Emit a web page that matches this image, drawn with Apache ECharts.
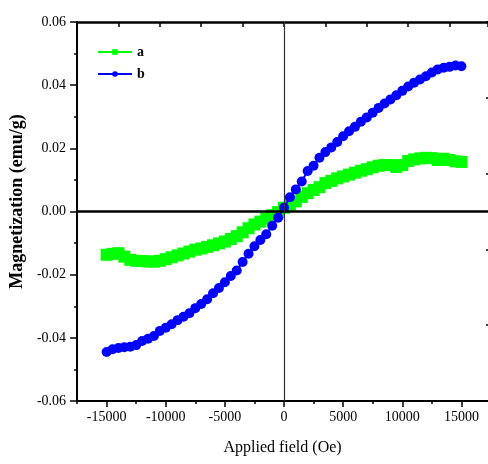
<!DOCTYPE html>
<html>
<head>
<meta charset="utf-8">
<script src="https://cdn.jsdelivr.net/npm/echarts@6/dist/echarts.min.js"></script>
<style>
  html, body { margin: 0; padding: 0; background: #fff; }
  #chart { width: 488px; height: 464px; }
</style>
</head>
<body>
<div id="chart"></div>
<script>
// Applied field (Oe), sampled every 500 Oe
const fields = [
  -15000, -14500, -14000, -13500, -13000, -12500, -12000, -11500, -11000, -10500,
  -10000, -9500, -9000, -8500, -8000, -7500, -7000, -6500, -6000, -5500,
  -5000, -4500, -4000, -3500, -3000, -2500, -2000, -1500, -1000, -500,
  0, 500, 1000, 1500, 2000, 2500, 3000, 3500, 4000, 4500,
  5000, 5500, 6000, 6500, 7000, 7500, 8000, 8500, 9000, 9500,
  10000, 10500, 11000, 11500, 12000, 12500, 13000, 13500, 14000, 14500, 15000
];

// Magnetization (emu/g), sample a
const magA = [
  -0.0137, -0.0134, -0.0132, -0.0143, -0.0153, -0.0156, -0.0157, -0.0158, -0.0159, -0.0156,
  -0.0151, -0.0145, -0.0139, -0.0133, -0.0127, -0.0121, -0.0117, -0.0112, -0.0107, -0.0101,
  -0.0095, -0.0087, -0.0078, -0.0066, -0.0053, -0.0041, -0.0032, -0.0022, -0.0012, -0.0002,
  0.0012, 0.0021, 0.0032, 0.0046, 0.0058, 0.0068, 0.0077, 0.0090, 0.0097, 0.0105,
  0.0111, 0.0117, 0.0123, 0.0129, 0.0134, 0.0140, 0.0145, 0.0147, 0.0147, 0.0141,
  0.0147, 0.0160, 0.0165, 0.0168, 0.0170, 0.0169, 0.0163, 0.0167, 0.0163, 0.0159, 0.0157
];

// Magnetization (emu/g), sample b
const magB = [
  -0.0445, -0.0436, -0.0432, -0.0430, -0.0428, -0.0423, -0.0410, -0.0403, -0.0394, -0.0378,
  -0.0368, -0.0357, -0.0344, -0.0333, -0.0322, -0.0306, -0.0293, -0.0278, -0.0259, -0.0242,
  -0.0224, -0.0204, -0.0187, -0.0160, -0.0134, -0.0110, -0.0090, -0.0072, -0.0045, -0.0020,
  0.0012, 0.0045, 0.0070, 0.0095, 0.0128, 0.0145, 0.0170, 0.0188, 0.0203, 0.0220,
  0.0238, 0.0254, 0.0268, 0.0284, 0.0298, 0.0313, 0.0328, 0.0342, 0.0355, 0.0368,
  0.0382, 0.0396, 0.0408, 0.0418, 0.0428, 0.0440, 0.0450, 0.0455, 0.0458, 0.0462, 0.0460
];

// Bottom axis: labelled ticks and the minor ticks between them
const fieldTicks = [-15000, -10000, -5000, 0, 5000, 10000, 15000];
const fieldMinorTicks = [-17500, -12500, -7500, -2500, 2500, 7500, 12500];

const serif = "'Liberation Serif', 'Times New Roman', serif";

const pairsA = fields.map((f, i) => [f, magA[i]]);
const pairsB = fields.map((f, i) => [f, magB[i]]);

const chart = echarts.init(document.getElementById('chart'), null, { renderer: 'canvas' });

// the frame runs a few pixels past the right edge of the page,
// so the field axis stops at 17250 instead of 17500 there
const fieldMin = -17500;
const fieldMax = 17250;

chart.setOption({
  animation: false,
  backgroundColor: '#fff',
  grid: { left: 75, top: 22, right: 0, height: 379, containLabel: false },
  legend: {
    data: ['a', 'b'],
    orient: 'vertical',
    left: 92,
    top: 40,
    itemWidth: 34,
    itemHeight: 7,
    itemGap: 8,
    textStyle: { fontFamily: serif, fontWeight: 'bold', fontSize: 14, color: '#000' }
  },
  xAxis: [
    {
      type: 'value',
      position: 'bottom',
      min: fieldMin,
      max: fieldMax,
      name: 'Applied field (Oe)',
      nameLocation: 'middle',
      nameGap: 39,
      nameTextStyle: { fontFamily: serif, fontSize: 16, color: '#000' },
      axisLine: { show: true, onZero: false, lineStyle: { color: '#000', width: 2 } },
      axisTick: { show: true, inside: false, length: 6, customValues: fieldTicks, lineStyle: { color: '#000', width: 1.5 } },
      axisLabel: {
        show: true, customValues: fieldTicks, margin: 9, fontFamily: serif, fontSize: 14, color: '#000',
        formatter: v => String(v)
      },
      splitLine: { show: false }
    },
    {
      type: 'value',
      position: 'bottom',
      min: fieldMin,
      max: fieldMax,
      axisLine: { show: false, onZero: false },
      axisTick: { show: true, inside: false, length: 3, customValues: fieldMinorTicks, lineStyle: { color: '#000', width: 1.5 } },
      axisLabel: { show: false },
      splitLine: { show: false }
    },
    {
      // top frame edge, ten equal divisions across the full frame width
      type: 'value',
      position: 'top',
      min: 0,
      max: 9.93,
      interval: 1,
      axisLine: { show: true, onZero: false, lineStyle: { color: '#000', width: 2.5 } },
      axisTick: { show: true, inside: true, length: 5, lineStyle: { color: '#000', width: 1.5 } },
      axisLabel: { show: false },
      splitLine: { show: false }
    }
  ],
  yAxis: [
    {
      type: 'value',
      position: 'left',
      min: -0.06,
      max: 0.06,
      interval: 0.02,
      name: 'Magnetization (emu/g)',
      nameLocation: 'middle',
      nameGap: 37,
      nameTextStyle: {
        fontFamily: serif, fontSize: 18, fontWeight: 'bold', color: '#000',
        padding: [0, 0, 0, 20]
      },
      axisLine: { show: true, onZero: false, lineStyle: { color: '#000', width: 2 } },
      axisTick: { show: true, inside: false, length: 7, lineStyle: { color: '#000', width: 1.5 } },
      minorTick: { show: true, splitNumber: 2, length: 3, lineStyle: { color: '#000', width: 1.5 } },
      axisLabel: {
        show: true, margin: 11, fontFamily: serif, fontSize: 14, color: '#000',
        formatter: v => v.toFixed(2)
      },
      splitLine: { show: false }
    },
    {
      // right frame edge (its line falls just outside the page)
      type: 'value',
      position: 'right',
      min: 0,
      max: 5,
      interval: 1,
      axisLine: { show: false, onZero: false },
      axisTick: { show: true, inside: true, length: 2, lineStyle: { color: '#000', width: 1.5 } },
      axisLabel: { show: false },
      splitLine: { show: false }
    }
  ],
  series: [
    {
      // zero reference lines behind the data
      type: 'line',
      xAxisIndex: 0,
      yAxisIndex: 0,
      data: [],
      z: 1,
      silent: true,
      markLine: {
        silent: true,
        symbol: 'none',
        label: { show: false },
        animation: false,
        data: [
          { yAxis: 0, lineStyle: { color: '#000', width: 2.5, type: 'solid' } },
          { xAxis: 0, lineStyle: { color: '#333', width: 1.2, type: 'solid' } }
        ]
      }
    },
    {
      name: 'a',
      type: 'line',
      xAxisIndex: 0,
      yAxisIndex: 0,
      data: pairsA,
      z: 3,
      symbol: 'rect',
      symbolSize: 12,
      showAllSymbol: true,
      itemStyle: { color: '#00ff00' },
      lineStyle: { color: '#00ff00', width: 2 }
    },
    {
      name: 'b',
      type: 'line',
      xAxisIndex: 0,
      yAxisIndex: 0,
      data: pairsB,
      z: 4,
      symbol: 'circle',
      symbolSize: 10,
      showAllSymbol: true,
      itemStyle: { color: '#0000ff' },
      lineStyle: { color: '#0000ff', width: 2 }
    }
  ]
});
</script>
</body>
</html>
